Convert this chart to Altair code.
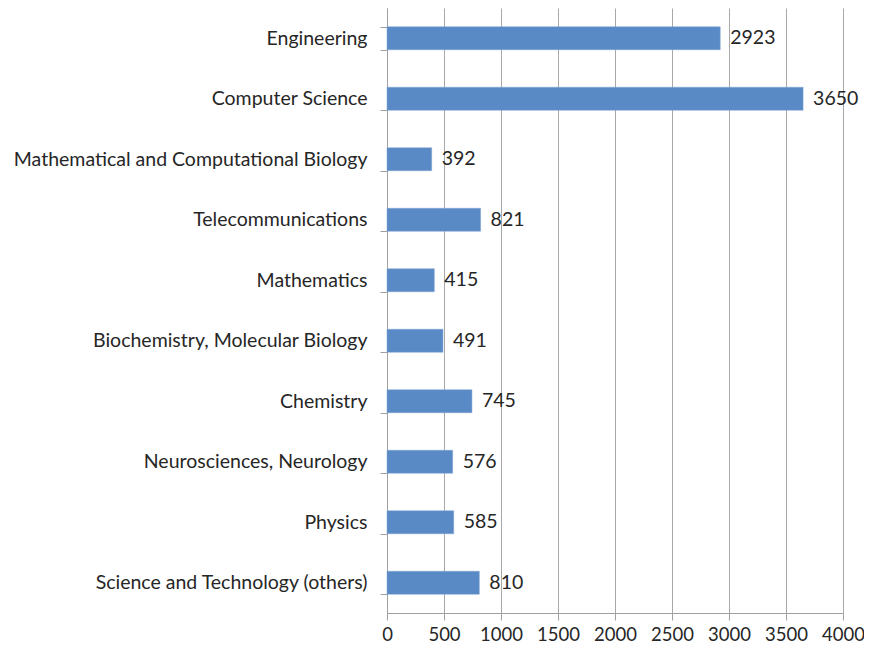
import altair as alt
import pandas as pd

categories = [
    "Engineering",
    "Computer Science",
    "Mathematical and Computational Biology",
    "Telecommunications",
    "Mathematics",
    "Biochemistry, Molecular Biology",
    "Chemistry",
    "Neurosciences, Neurology",
    "Physics",
    "Science and Technology (others)",
]
values = [2923, 3650, 392, 821, 415, 491, 745, 576, 585, 810]
x_ticks = [0, 500, 1000, 1500, 2000, 2500, 3000, 3500, 4000]

df = pd.DataFrame({"category": categories, "value": values})

FONT = "Lato"
FS = 19.5

y_enc = alt.Y(
    "category:N",
    sort=categories,
    title=None,
    scale=alt.Scale(paddingInner=0.62, paddingOuter=0.31),
    axis=alt.Axis(
        domainColor="#a0a0a0",
        tickColor="#a0a0a0",
        tickSize=7,
        tickBand="extent",
        labelPadding=13,
        labelFont=FONT,
        labelFontSize=FS,
        labelColor="#262626",
        labelLimit=400,
        grid=False,
    ),
)

x_enc = alt.X(
    "value:Q",
    title=None,
    scale=alt.Scale(domain=[0, 4000], nice=False),
    axis=alt.Axis(
        values=x_ticks,
        format="d",
        domainColor="#a0a0a0",
        tickColor="#a0a0a0",
        tickSize=7,
        gridColor="#a8a8a8",
        gridWidth=1,
        labelPadding=5,
        labelFont=FONT,
        labelFontSize=18.5,
        labelColor="#262626",
        labelFlush=False,
    ),
)

bars = alt.Chart(df).mark_bar(color="#5A8AC5", stroke="#7fa3d3", strokeWidth=0.5).encode(
    x=x_enc, y=y_enc
)

labels = alt.Chart(df).mark_text(
    align="left", baseline="middle", dx=10, font=FONT, fontSize=FS, color="#262626"
).encode(
    x=alt.X("value:Q"),
    y=alt.Y("category:N", sort=categories),
    text=alt.Text("value:Q", format="d"),
)

chart = (
    alt.layer(bars, labels)
    .properties(
        width=456,
        height=605,
        autosize=alt.AutoSizeParams(type="none"),
        padding={"left": 379, "top": 0, "right": 21, "bottom": 30},
        background="white",
    )
    .configure_view(stroke=None)
)

chart.save("out.html", embed_options={"renderer": "svg", "actions": False})
